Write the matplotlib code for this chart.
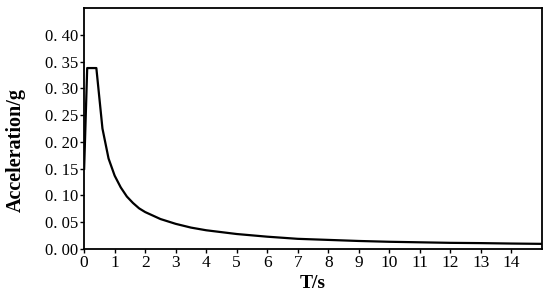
import numpy as np
import matplotlib.pyplot as plt

# period (s) and spectral acceleration (g)
period = [0, 0.1, 0.4, 0.6, 0.8, 1.0, 1.2, 1.4, 1.6, 1.8, 2.0, 2.5, 3.0, 3.5,
          4.0, 5.0, 6.0, 7.0, 8.0, 9.0, 10.0, 11.0, 12.0, 13.0, 14.0, 15.0]
accel = [0.150, 0.338, 0.338, 0.225, 0.169, 0.137, 0.115, 0.098, 0.086, 0.076,
         0.069, 0.056, 0.047, 0.040, 0.035, 0.028, 0.023, 0.019, 0.017, 0.015,
         0.0135, 0.0125, 0.0115, 0.011, 0.0102, 0.0096]

xticks = list(range(15))
yticks = [0.00, 0.05, 0.10, 0.15, 0.20, 0.25, 0.30, 0.35, 0.40]
ytick_labels = ['0. 00', '0. 05', '0. 10', '0. 15', '0. 20', '0. 25', '0. 30', '0. 35', '0. 40']

plt.rcParams['font.family'] = 'Liberation Serif'

fig = plt.figure(figsize=(5.5, 3), dpi=100)
ax = fig.add_axes([0.153, 0.17, 0.832, 0.803])

ax.plot(period, accel, color='black', lw=1.6)

ax.set_xlim(0, 15)
ax.set_ylim(0, 0.45)
ax.set_xticks(xticks)
ax.set_yticks(yticks)
ax.set_yticklabels(ytick_labels)
ax.tick_params(labelsize=12, length=3, width=1, direction='out', pad=1)
ax.tick_params(axis='x', labelsize=12.5)

for s in ax.spines.values():
    s.set_linewidth(1.3)

ax.set_xlabel('T/s', fontsize=14, fontweight='bold', labelpad=3)
ax.set_ylabel('Acceleration/g', fontsize=14.5, fontweight='bold')
ax.yaxis.set_label_coords(-0.127, 0.41)

fig.savefig('out.png', dpi=100)
